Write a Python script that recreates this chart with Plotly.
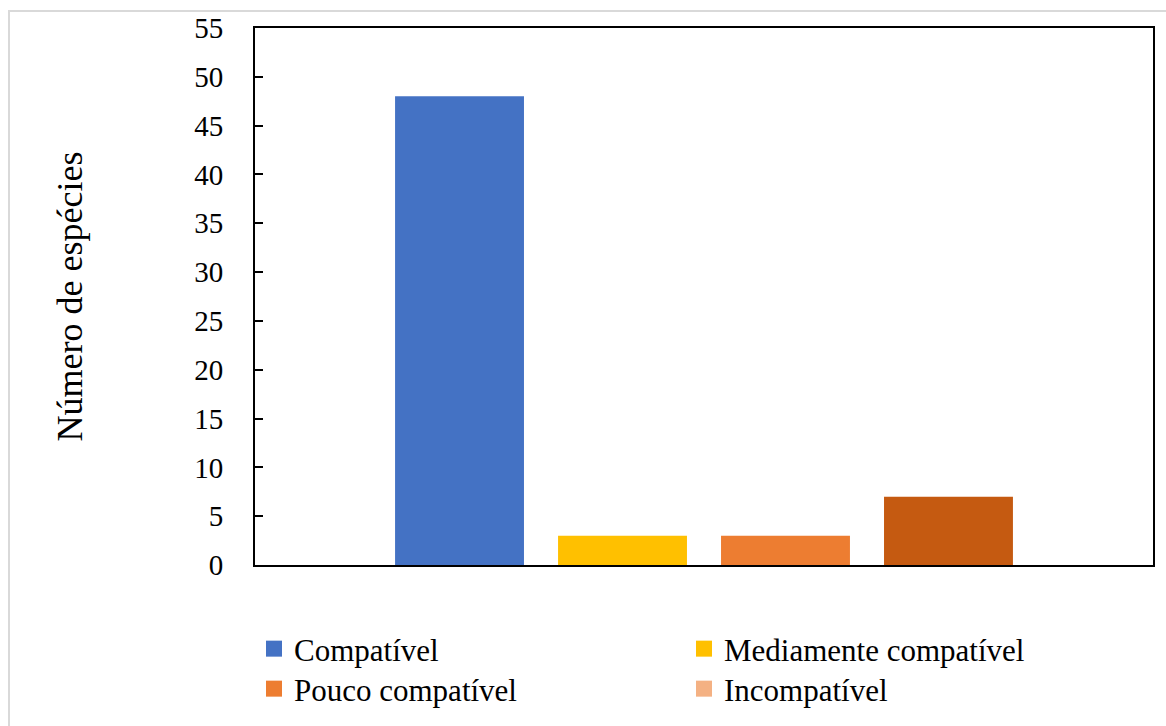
import plotly.graph_objects as go

# Species counts by compatibility class
categories = ["Compatível", "Mediamente compatível", "Pouco compatível", "Incompatível"]
counts = [48, 3, 3, 7]
bar_colors = ["#4472C4", "#FFC000", "#ED7D31", "#C55A11"]
legend_colors = ["#4472C4", "#FFC000", "#ED7D31", "#F4B183"]
y_ticks = [0, 5, 10, 15, 20, 25, 30, 35, 40, 45, 50, 55]

FONT = "Liberation Serif, Times New Roman, serif"

fig = go.Figure()

for name, val, col in zip(categories, counts, bar_colors):
    fig.add_trace(go.Bar(
        x=[0], y=[val], name=name, marker=dict(color=col, line=dict(width=0)),
        showlegend=False, hoverinfo="y+name",
    ))

# Legend entries: two rows of two items each
for i, (name, col) in enumerate(zip(categories, legend_colors)):
    fig.add_trace(go.Scatter(
        x=[None], y=[None], mode="markers", name=name,
        marker=dict(symbol="square", size=16, color=col, line=dict(width=0)),
        legend="legend" if i < 2 else "legend2",
    ))

W, H = 1166, 726
L, R, T, B = 255, 13, 28, 161
pw, ph = W - L - R, H - T - B

legend_common = dict(
    orientation="h", xanchor="left", yanchor="middle", entrywidth=385,
    font=dict(family=FONT, size=31, color="#000000"),
    bgcolor="rgba(0,0,0,0)", itemclick=False, itemdoubleclick=False,
)

fig.update_layout(
    width=W, height=H,
    margin=dict(l=L, r=R, t=T, b=B, autoexpand=False),
    paper_bgcolor="white", plot_bgcolor="white",
    barmode="group", bargap=0.274, bargroupgap=0.209,
    font=dict(family=FONT, size=29, color="#000000"),
    xaxis=dict(
        range=[-0.5, 0.5], showticklabels=False, ticks="",
        showgrid=False, zeroline=False,
        showline=True, linecolor="#000000", linewidth=2, mirror=True,
    ),
    yaxis=dict(
        range=[0, 55], tickvals=y_ticks, ticks="inside", ticklen=8,
        tickwidth=2, tickcolor="#000000", ticklabelstandoff=24,
        showgrid=False, zeroline=False,
        showline=True, linecolor="#000000", linewidth=2, mirror=True,
        tickfont=dict(family=FONT, size=29, color="#000000"),
        title=dict(text="Número de espécies", standoff=101,
                   font=dict(family=FONT, size=36, color="#000000")),
    ),
    legend=dict(x=(254 - L) / pw, y=-(649 - (T + ph)) / ph, **legend_common),
    legend2=dict(x=(254 - L) / pw, y=-(689 - (T + ph)) / ph, **legend_common),
    shapes=[dict(
        type="rect", xref="paper", yref="paper", layer="below",
        x0=(9 - L) / pw, x1=(W + 10 - L) / pw,
        y0=-(H + 10 - (T + ph)) / ph, y1=1 + (T - 11) / ph,
        line=dict(color="#D9D9D9", width=2), fillcolor="rgba(0,0,0,0)",
    )],
)

fig.write_html("out.html")
